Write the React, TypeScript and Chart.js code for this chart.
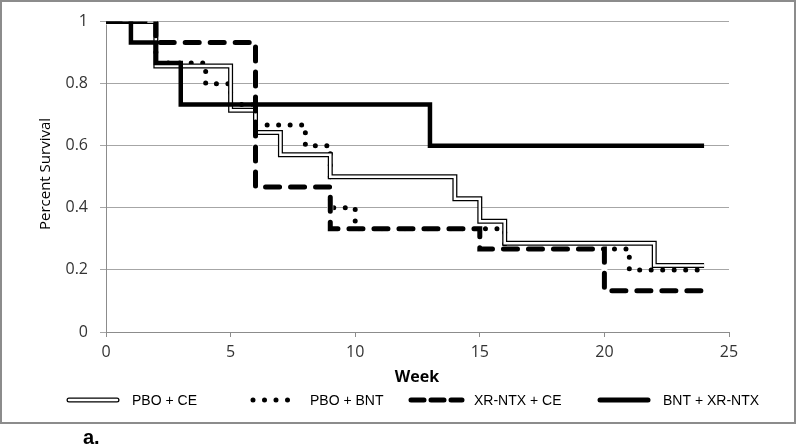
import { useEffect, useRef } from "react";
import { Chart, registerables } from "chart.js";

Chart.register(...registerables);

// ---- Data ----
const seriesLabels = ["PBO + CE", "PBO + BNT", "XR-NTX + CE", "BNT + XR-NTX"];

const pboCeWeeks = [0, 2, 5, 6, 7, 9, 14, 15, 16, 22, 24];
const pboCeSurvival = [1, 0.857, 0.714, 0.643, 0.571, 0.5, 0.429, 0.357, 0.286, 0.214, 0.214];

const pboBntWeeks = [0, 2, 4, 5, 6, 8, 9, 10, 16, 21, 24];
const pboBntSurvival = [1, 0.867, 0.8, 0.733, 0.667, 0.6, 0.4, 0.333, 0.267, 0.2, 0.2];

const xrCeWeeks = [0, 2, 6, 9, 15, 20, 24];
const xrCeSurvival = [1, 0.933, 0.467, 0.333, 0.267, 0.133, 0.133];

const bntXrWeeks = [0, 1, 2, 3, 13, 24];
const bntXrSurvival = [1, 0.933, 0.867, 0.733, 0.6, 0.6];

const xTickValues = [0, 5, 10, 15, 20, 25];
const yTickValues = [0, 0.2, 0.4, 0.6, 0.8, 1];

const xTitle = "Week";
const yTitle = "Percent Survival";
const panelLabel = "a.";

const toPoints = (xs: number[], ys: number[]) => xs.map((x, i) => ({ x, y: ys[i] }));

const decorPlugin = {
  id: "decor",
  afterDraw(chart: any) {
    const ctx = chart.ctx as CanvasRenderingContext2D;
    ctx.save();
    // frame
    ctx.strokeStyle = "#8c8c8c";
    ctx.lineWidth = 2;
    ctx.strokeRect(1, 1, 794, 422);

    // y title
    ctx.save();
    ctx.translate(46, 174);
    ctx.rotate(-Math.PI / 2);
    ctx.font = '15px "Open Sans"';
    ctx.fillStyle = "#000";
    ctx.textAlign = "center";
    ctx.textBaseline = "middle";
    ctx.fillText(yTitle, 0, 0);
    ctx.restore();

    // x title
    ctx.font = 'bold 16px "Open Sans"';
    ctx.fillStyle = "#000";
    ctx.textAlign = "center";
    ctx.textBaseline = "middle";
    ctx.fillText(xTitle, 417, 377);

    // legend
    const ly = 400;
    ctx.textAlign = "left";
    ctx.font = '14px "Liberation Sans"';
    // 1 double line
    ctx.lineCap = "round";
    ctx.strokeStyle = "#000";
    ctx.lineWidth = 5;
    ctx.beginPath(); ctx.moveTo(69, ly); ctx.lineTo(117, ly); ctx.stroke();
    ctx.strokeStyle = "#fff";
    ctx.lineWidth = 2.5;
    ctx.beginPath(); ctx.moveTo(69, ly); ctx.lineTo(117, ly); ctx.stroke();
    ctx.fillStyle = "#000";
    ctx.fillText(seriesLabels[0], 132, ly + 1);
    // 2 dots
    ctx.strokeStyle = "#000";
    ctx.lineWidth = 5;
    ctx.setLineDash([0, 11.5]);
    ctx.beginPath(); ctx.moveTo(253, ly); ctx.lineTo(298, ly); ctx.stroke();
    ctx.fillText(seriesLabels[1], 310, ly + 1);
    // 3 dashes
    ctx.setLineDash([13, 7]);
    ctx.beginPath(); ctx.moveTo(411, ly); ctx.lineTo(462, ly); ctx.stroke();
    ctx.fillText(seriesLabels[2], 474, ly + 1);
    // 4 solid
    ctx.setLineDash([]);
    ctx.lineCap = "round";
    ctx.beginPath(); ctx.moveTo(600, ly); ctx.lineTo(648, ly); ctx.stroke();
    ctx.fillText(seriesLabels[3], 663, ly + 1);

    // panel label
    ctx.font = 'bold 20px "Liberation Sans"';
    ctx.textBaseline = "alphabetic";
    ctx.fillText(panelLabel, 83, 444);
    ctx.restore();
  },
};

export default function App() {
  const canvasRef = useRef<HTMLCanvasElement | null>(null);

  useEffect(() => {
    if (!canvasRef.current) return;
    const chart = new Chart(canvasRef.current, {
      type: "line",
      data: {
        datasets: [
          {
            label: seriesLabels[1],
            data: toPoints(pboBntWeeks, pboBntSurvival),
            borderColor: "#000",
            borderWidth: 5,
            borderDash: [0, 11.5],
            borderCapStyle: "round",
            stepped: "before",
            pointRadius: 0,
            order: 8,
          },
          {
            label: seriesLabels[2] + " underlay",
            data: toPoints(xrCeWeeks, xrCeSurvival),
            borderColor: "#fff",
            borderWidth: 6,
            stepped: "before",
            pointRadius: 0,
            order: 7,
          },
          {
            label: seriesLabels[0],
            data: toPoints(pboCeWeeks, pboCeSurvival),
            borderColor: "#000",
            borderWidth: 5,
            stepped: "before",
            pointRadius: 0,
            order: 6,
          },
          {
            label: seriesLabels[0] + " inner",
            data: toPoints(pboCeWeeks, pboCeSurvival),
            borderColor: "#fff",
            borderWidth: 2.5,
            stepped: "before",
            pointRadius: 0,
            order: 5,
          },
          {
            label: seriesLabels[2],
            data: toPoints(xrCeWeeks, xrCeSurvival),
            borderColor: "#000",
            borderWidth: 5,
            borderDash: [14, 11],
            borderCapStyle: "round",
            stepped: "before",
            pointRadius: 0,
            order: 3,
          },
          {
            label: seriesLabels[3],
            data: toPoints(bntXrWeeks, bntXrSurvival),
            borderColor: "#000",
            borderWidth: 4.5,
            stepped: "before",
            pointRadius: 0,
            order: 2,
          },
        ],
      },
      options: {
        animation: false,
        responsive: false,
        devicePixelRatio: 1,
        layout: { padding: { top: 21, right: 71, left: 0, bottom: 0 } },
        plugins: {
          legend: { display: false },
          tooltip: { enabled: false },
        },
        scales: {
          x: {
            type: "linear",
            min: 0,
            max: 25,
            afterFit: (s: any) => { s.height = 114; },
            afterBuildTicks: (s: any) => { s.ticks = xTickValues.map((v) => ({ value: v })); },
            ticks: {
              font: { family: "Open Sans", size: 16 },
              color: "#333",
              padding: 6,
              maxRotation: 0,
              callback: (v: any) => String(v),
            },
            grid: { drawOnChartArea: false, tickLength: 5, color: "#8c8c8c" },
            border: { color: "#8c8c8c" },
          },
          y: {
            min: 0,
            max: 1,
            afterFit: (s: any) => { s.width = 106; },
            afterBuildTicks: (s: any) => { s.ticks = yTickValues.map((v) => ({ value: v })); },
            ticks: {
              font: { family: "Open Sans", size: 16 },
              color: "#333",
              padding: 12,
              callback: (v: any) => String(v),
            },
            grid: { color: "#a6a6a6", tickLength: 6 },
            border: { color: "#8c8c8c" },
          },
        },
      },
      plugins: [decorPlugin],
    } as any);
    return () => chart.destroy();
  }, []);

  return (
    <div style={{ position: "fixed", left: 0, top: 0, width: 800, height: 446, background: "#fff" }}>
      <canvas ref={canvasRef} width={800} height={446} style={{ display: "block" }} />
    </div>
  );
}
